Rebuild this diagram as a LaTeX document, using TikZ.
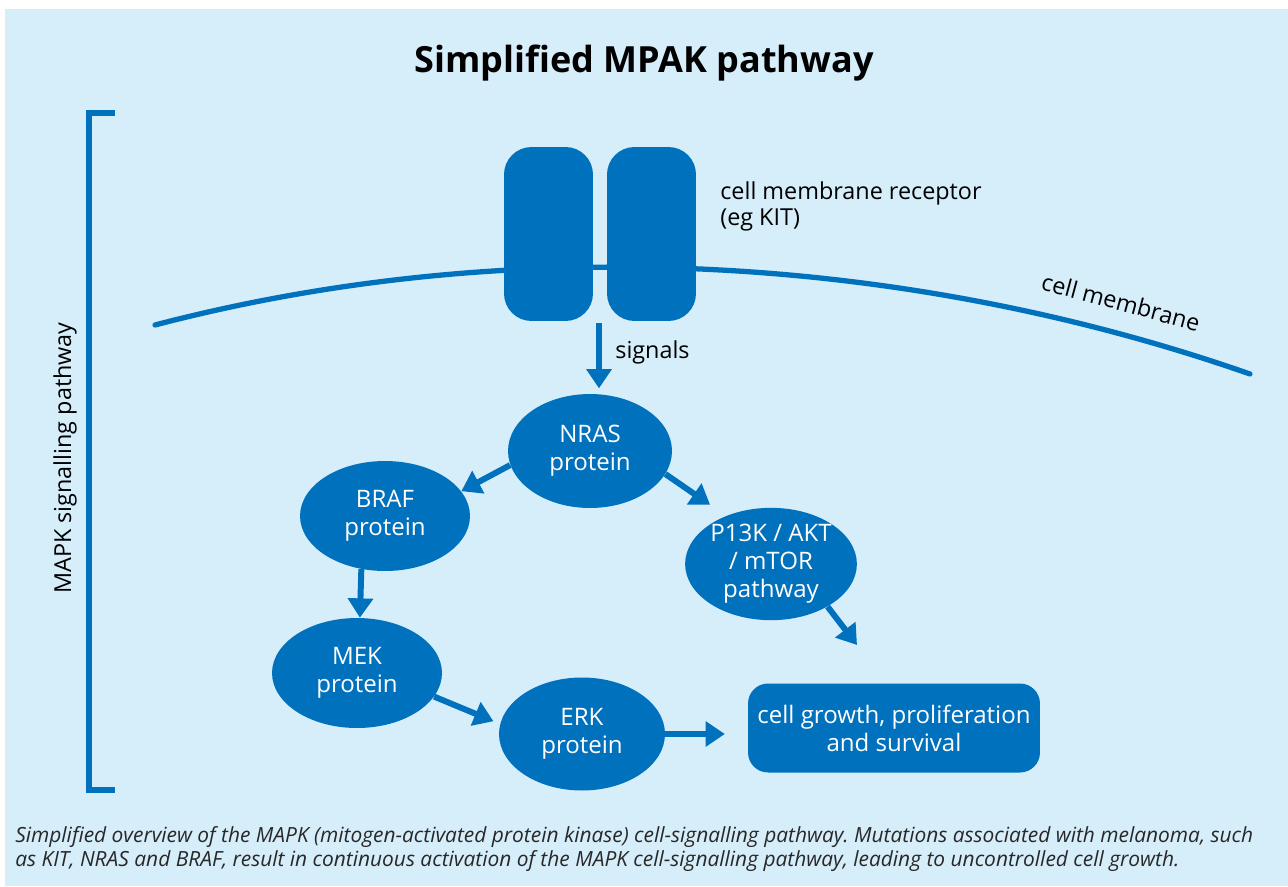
\documentclass[tikz,border=0pt]{standalone}
\usepackage{fontspec}
\setmainfont{Open Sans}
\usepackage{xcolor}
\usetikzlibrary{arrows.meta,shapes.geometric}
\definecolor{bgblue}{RGB}{214,237,250}
\definecolor{mapkblue}{RGB}{0,113,188}
\definecolor{capgray}{RGB}{40,40,40}
\frenchspacing

\begin{document}
\begin{tikzpicture}[x=0.02cm, y=-0.02cm,
  protein/.style={ellipse, fill=mapkblue, text=white, minimum width=3.4cm, minimum height=2.2cm,
    inner sep=0pt, align=center, font=\fontsize{13.7}{16}\selectfont},
  receptor/.style={rectangle, rounded corners=0.55cm, fill=mapkblue, minimum width=1.78cm, minimum height=3.48cm},
  signal/.style={mapkblue, line width=3.4pt, -{Triangle[length=11pt,width=14pt]}},
  note/.style={inner sep=0pt, text=black, font=\fontsize{13.3}{15}\selectfont}]
  % Background and page margins
  \useasboundingbox (0,0) rectangle (1288,886);
  \fill[bgblue] (5,9) rectangle (1288,886);

  % Title
  \node[anchor=base, font=\bfseries\fontsize{20.5}{25}\selectfont] (title) at (644,72) {Simplified MPAK pathway};

  % Bracket for the MAPK pathway
  \draw[mapkblue, line width=3.4pt] (115,113) -- (89,113) -- (89,790) -- (115,790);
  \node[note, rotate=90] (mapklbl) at (65,458) {MAPK signalling pathway};

  % Cell membrane
  \draw[mapkblue, line width=3pt, line cap=round] (155,325) .. controls (510,232) and (904,253) .. (1250,374);
  \node[note, rotate=-15] (memlbl) at (1121,302) {cell membrane};

  % Receptor (two halves)
  \node[receptor] (reclt) at (548.5,234) {};
  \node[receptor] (recrt) at (651.5,234) {};
  \node[note, anchor=north west, align=left] (reclbl) at (720,181) {cell membrane receptor\\(eg KIT)};

  % Proteins
  \node[protein, minimum width=3.28cm, minimum height=2.28cm] (nras) at (590,451) {NRAS\\protein};
  \node[protein] (braf) at (385,516) {BRAF\\protein};
  \node[protein] (pik) at (771,564) {P13K / AKT\\/ mTOR\\pathway};
  \node[protein] (mek) at (357,673) {MEK\\protein};
  \node[protein, minimum width=3.32cm, minimum height=2.26cm] (erk) at (582,734) {ERK\\protein};
  \node[rectangle, rounded corners=0.4cm, fill=mapkblue, text=white, minimum width=5.84cm, minimum height=1.78cm,
    align=center, font=\fontsize{13.7}{16}\selectfont] (growth) at (894,728) {cell growth, proliferation\\and survival};

  % Arrows
  \coordinate (sigtop) at (599,323);
  \coordinate (pikend) at (857,645);
  \draw[signal, shorten >=3pt] (sigtop) -- (sigtop |- nras.north);
  \node[note, anchor=west] (siglbl) at (615,352) {signals};
  \draw[signal] (nras.190) -- (braf.18);
  \draw[signal, shorten >=11pt] (nras.-17) -- (pik.133);
  \draw[signal] (braf.-114) -- (mek.87);
  \draw[signal] (pik.-37) -- (pikend);
  \draw[signal, shorten >=4pt] (mek.-17) -- (erk.173);
  \draw[signal, shorten >=13pt] (erk.east) -- (erk.east -| growth.west);

  % Caption
  \node[anchor=north west, inner sep=0pt, align=left, text=capgray, font=\itshape\fontsize{11.9}{13.5}\selectfont] (caption) at (15,826)
    {Simplified overview of the MAPK (mitogen-activated protein kinase) cell-signalling pathway. Mutations associated with melanoma, such\\
     as KIT, NRAS and BRAF, result in continuous activation of the MAPK cell-signalling pathway, leading to uncontrolled cell growth.};
\end{tikzpicture}
\end{document}
